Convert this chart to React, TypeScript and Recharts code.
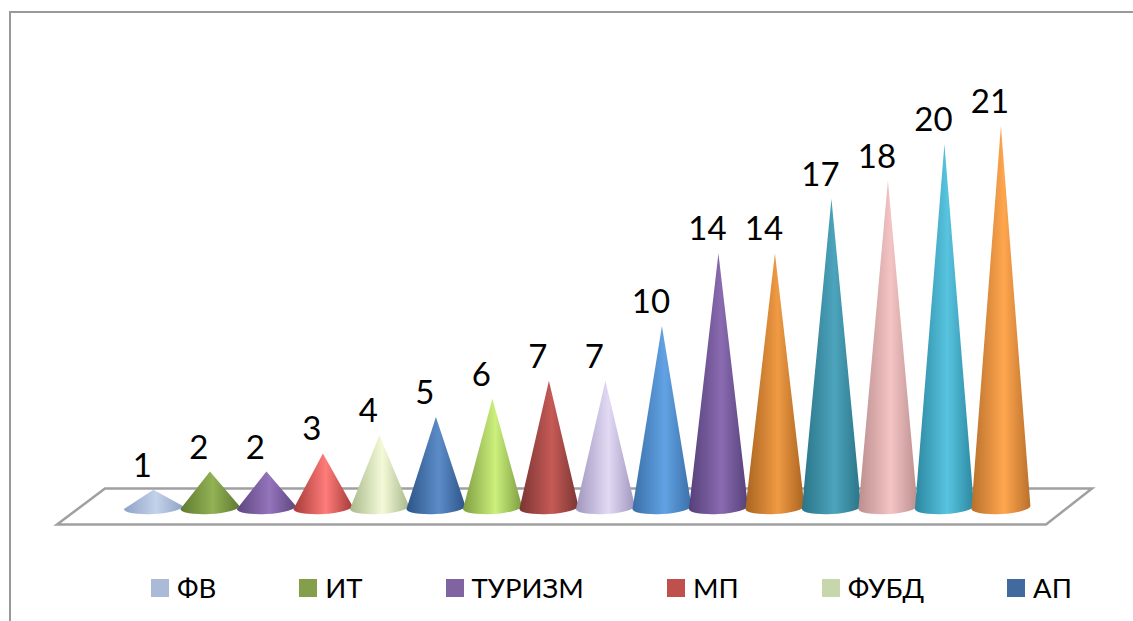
import React from 'react';
import { BarChart, Bar, XAxis, YAxis, Cell, Legend, LabelList } from 'recharts';

const CATEGORIES = ['ФВ', 'ИТ', 'ТУРИЗМ', 'МП', 'ФУБД', 'АП', 'к7', 'к8', 'к9', 'к10', 'к11', 'к12', 'к13', 'к14', 'к15', 'к16'];
const VALUES = [1, 2, 2, 3, 4, 5, 6, 7, 7, 10, 14, 14, 17, 18, 20, 21];
const LEGEND_NAMES = ['ФВ', 'ИТ', 'ТУРИЗМ', 'МП', 'ФУБД', 'АП'];
const LEGEND_COLORS = ['#AABAD7', '#839F4A', '#8064A2', '#C0504D', '#C8D6AC', '#416A9E'];
const EDGE_COLORS = ['#8FA3C6', '#5F7A30', '#5E4680', '#A53B38', '#A8B98C', '#2C5488', '#7E9E42', '#7A3533', '#A096BE', '#3A6FA8', '#55407A', '#A9641F', '#2A7488', '#BC8E8E', '#2C87A0', '#B9702C'];
const MID_COLORS = ['#C4D2EA', '#92B254', '#9474BC', '#FF7C7A', '#F4FAD8', '#5C8CC8', '#CCF07C', '#C65A56', '#E2DAF4', '#62A2E4', '#8A6AB0', '#F09A44', '#4CA4BC', '#F4C4C4', '#58C4E0', '#FFA64E'];

const WIDTH = 1133;
const HEIGHT = 621;
const CONE_RX = 29.5;

const data = CATEGORIES.map((name, i) => ({ name, value: VALUES[i] }));

const Cone = (props: any) => {
  const { x, y, width, height, index } = props;
  const cx = x + width / 2;
  const by = y + height;
  const d = `M ${cx} ${y} L ${cx + CONE_RX} ${by - 2} A ${CONE_RX} 6.5 -3 0 1 ${cx - CONE_RX} ${by + 1} Z`;
  return <path d={d} fill={`url(#cone-${index})`} />;
};

const ValueLabel = (props: any) => {
  const { x, y, width, value } = props;
  return (
    <text
      x={x + width / 2 - 11}
      y={y - 26}
      textAnchor="middle"
      dominantBaseline="central"
      fontFamily="Lato, 'Open Sans', sans-serif"
      fontSize={33}
      fill="#000"
    >
      {value}
    </text>
  );
};

const LegendRow = () => (
  <div style={{ display: 'flex', gap: 83, alignItems: 'center', fontFamily: "Lato, 'Open Sans', sans-serif", fontSize: 27.5, color: '#000', lineHeight: '36px', whiteSpace: 'nowrap' }}>
    {LEGEND_NAMES.map((n, i) => (
      <div key={n} style={{ display: 'flex', alignItems: 'center', gap: 8 }}>
        <span style={{ width: 18, height: 18, background: LEGEND_COLORS[i], display: 'inline-block' }} />
        <span>{n}</span>
      </div>
    ))}
  </div>
);

export default function App() {
  return (
    <div style={{ position: 'absolute', left: 0, top: 0, width: WIDTH, height: HEIGHT, background: '#fff', overflow: 'hidden' }}>
      <div style={{ position: 'absolute', left: 9, top: 11, width: 1200, height: 700, borderLeft: '2px solid #999', borderTop: '2px solid #999' }} />
      <BarChart
        width={WIDTH}
        height={HEIGHT}
        data={data}
        margin={{ top: 126, right: 104, bottom: 77, left: 125 }}
        barSize={58}
        style={{ position: 'absolute', left: 0, top: 0 }}
      >
        <defs>
          {VALUES.map((_, i) => (
            <linearGradient key={i} id={`cone-${i}`} x1="0" y1="0" x2="1" y2="0">
              <stop offset="0%" stopColor={EDGE_COLORS[i]} />
              <stop offset="55%" stopColor={MID_COLORS[i]} />
              <stop offset="100%" stopColor={EDGE_COLORS[i]} />
            </linearGradient>
          ))}
        </defs>
        <polygon points="57,524.5 105,488.5 1092,488.5 1046,524.5" fill="#fff" stroke="#a0a0a0" strokeWidth={2.5} />
        <XAxis dataKey="name" hide />
        <YAxis hide domain={[0, 21]} />
        <Legend
          layout="vertical"
          align="center"
          verticalAlign="bottom"
          content={<LegendRow />}
          wrapperStyle={{ left: 151, top: 570, width: 'auto', bottom: 'auto' }}
        />
        <Bar dataKey="value" isAnimationActive={false} shape={<Cone />}>
          {VALUES.map((_, i) => (
            <Cell key={i} fill={LEGEND_COLORS[i % LEGEND_COLORS.length]} />
          ))}
          <LabelList dataKey="value" content={<ValueLabel />} />
        </Bar>
      </BarChart>
    </div>
  );
}
